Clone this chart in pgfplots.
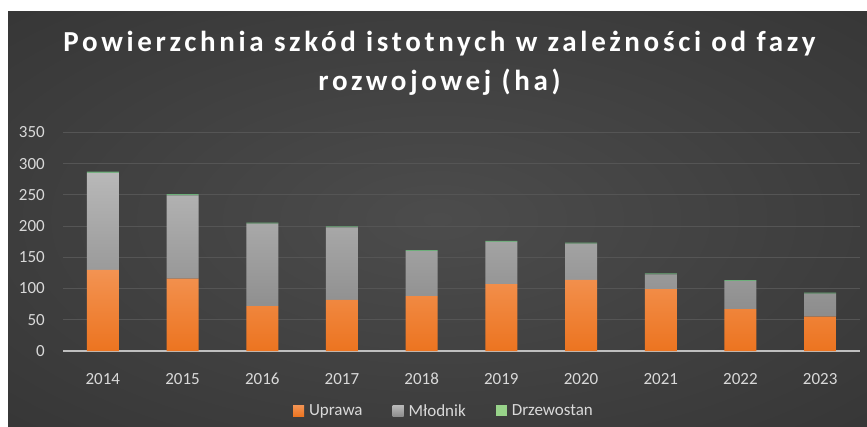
\documentclass[border=0pt]{standalone}
\usepackage{fontspec}
\setmainfont{Carlito}
\newfontfamily\titlefont[LetterSpace=12.7]{Carlito}
\usepackage{pgfplots}
\pgfplotsset{compat=1.18}
\definecolor{bgin}{HTML}{4C4C4C}
\definecolor{bgmid}{HTML}{2E2E2E}
\definecolor{bgout}{HTML}{232323}
\definecolor{txt}{HTML}{D9D9D9}
\definecolor{gridc}{HTML}{555555}
\definecolor{axisc}{HTML}{BFBFBF}
\definecolor{oraT}{HTML}{F39352}
\definecolor{oraB}{HTML}{EC7420}
\definecolor{oraL}{HTML}{F07E2C}
\definecolor{gryT}{HTML}{B8B8B8}
\definecolor{gryB}{HTML}{8C8C8C}
\definecolor{gryL}{HTML}{A8A8A8}
\definecolor{grn}{HTML}{6DAF7A}
\definecolor{grnL}{HTML}{98D38A}
\pgfdeclareradialshading{bgshade}{\pgfpoint{0bp}{0bp}}{color(0bp)=(bgin); color(50bp)=(bgmid); color(72bp)=(bgout)}

\pgfplotstableread{
x  upr   mlo    drz
0  130   155    2
1  116   133    2
2  72    132    1.6
3  82    116    1.6
4  88    72     1.6
5  107   67.5   1.6
6  114   58     1.6
7  99    23.5   1.6
8  67    45     1.6
9  55    37     1.6
}\dat

\begin{document}
\begin{tikzpicture}[x=1pt,y=1pt]
\useasboundingbox (0,0) rectangle (867,426);
\fill[white] (0,0) rectangle (867,426);
\shade[shading=bgshade] (8,0) rectangle (867,414);
\tikzset{ttl/.style={anchor=base, text=white, inner sep=0pt, font=\titlefont\bfseries\fontsize{29}{39}\selectfont}}
\node[ttl] at (439.5,374) {Powierzchnia szkód istotnych w zależności od fazy};
\node[ttl] at (439.5,335) {rozwojowej (ha)};
\begin{axis}[
  at={(63pt,75pt)}, anchor=south west,
  scale only axis,
  width=797pt, height=218.7pt,
  ybar stacked,
  bar width=32pt,
  xmin=-0.5, xmax=9.5,
  ymin=0, ymax=350,
  xtick={0,...,9},
  xticklabels={2014,2015,2016,2017,2018,2019,2020,2021,2022,2023},
  ytick={0,50,...,350},
  ymajorgrids,
  grid style={line width=0.8pt, gridc},
  axis x line*=bottom,
  axis y line*=left,
  x axis line style={line width=1.6pt, axisc},
  y axis line style={draw=none},
  major tick length=0pt,
  tick style={draw=none},
  /pgf/number format/assume math mode=true,
  ticklabel style={font=\fontsize{17}{20}\selectfont, text=txt, inner sep=0pt},
  yticklabel style={anchor=east, xshift=-18pt},
  xticklabel style={anchor=north, yshift=-22pt},
  legend columns=3,
  legend style={at={(0.478,-0.274)}, anchor=center, draw=none, fill=none,
    text=txt, font=\fontsize{17}{20}\selectfont,
    /tikz/every odd column/.append style={column sep=3pt},
    /tikz/every even column/.append style={column sep=28pt}},
]
\addplot[draw=none, top color=oraT, bottom color=oraB,
  legend image code/.code={\fill[oraL] (0pt,-5.5pt) rectangle (11pt,5.5pt);}]
  table[x=x, y=upr] {\dat};
\addplot[draw=none, top color=gryT, bottom color=gryB,
  legend image code/.code={\fill[gryL] (0pt,-5.5pt) rectangle (11pt,5.5pt);}]
  table[x=x, y=mlo] {\dat};
\addplot[draw=none, fill=grn,
  legend image code/.code={\fill[grnL] (0pt,-5.5pt) rectangle (11pt,5.5pt);}]
  table[x=x, y=drz] {\dat};
\legend{Uprawa, Młodnik, Drzewostan}
\end{axis}
\end{tikzpicture}
\end{document}
